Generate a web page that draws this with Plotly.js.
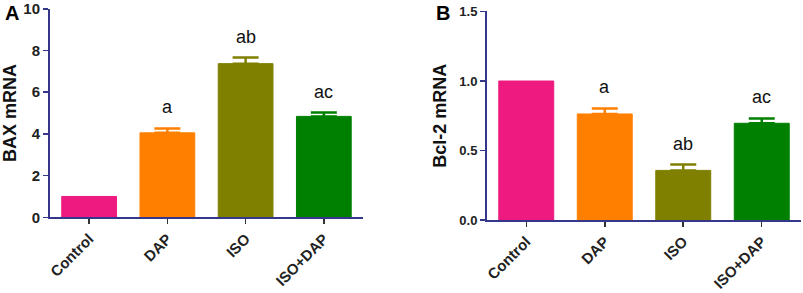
<!DOCTYPE html>
<html>
<head>
<meta charset="utf-8">
<script src="https://cdn.plot.ly/plotly-3.0.1.min.js"></script>
<style>html,body{margin:0;padding:0;background:#fff;}#chart{width:803px;height:293px;}</style>
</head>
<body>
<div id="chart"></div>
<script>
// ---- data ----
const categories = ["Control", "DAP", "ISO", "ISO+DAP"];
const baxMean = [1.0, 4.05, 7.37, 4.84];
const baxErr = [0, 0.21, 0.29, 0.18];
const baxLetters = ["", "a", "ab", "ac"];
const bcl2Mean = [1.0, 0.763, 0.357, 0.696];
const bcl2Err = [0, 0.04, 0.042, 0.035];
const bcl2Letters = ["", "a", "ab", "ac"];
const barColors = ["#EE1A80", "#FF8000", "#808000", "#008000"];

const FONT = "Liberation Sans, Arial, Helvetica, sans-serif";
const AXIS_COLOR = "#35378a";

function barTrace(mean, xa, ya) {
  return {
    type: "bar",
    x: categories,
    y: mean,
    xaxis: xa, yaxis: ya,
    width: 0.7,
    marker: {color: barColors, line: {color: barColors, width: 1}},
    showlegend: false,
    hoverinfo: "x+y"
  };
}

const traces = [barTrace(baxMean, "x", "y"), barTrace(bcl2Mean, "x2", "y2")];
// upward-only error bars, each coloured like its bar
const errTraces = [];
function addErr(mean, err, xa, ya) {
  categories.forEach((c, i) => {
    if (err[i] > 0) {
      errTraces.push({
        type: "scatter", mode: "markers", x: [c], y: [mean[i]], xaxis: xa, yaxis: ya,
        marker: {size: 0.1, opacity: 0},
        error_y: {type: "data", symmetric: false, array: [err[i]], arrayminus: [0],
                  color: barColors[i], thickness: 2.5, width: 13},
        showlegend: false, hoverinfo: "skip"
      });
    }
  });
}
addErr(baxMean, baxErr, "x", "y");
addErr(bcl2Mean, bcl2Err, "x2", "y2");

const annotations = [];
function addLetters(mean, err, letters, xa, ya) {
  categories.forEach((c, i) => {
    if (letters[i]) {
      annotations.push({
        x: c, y: mean[i] + err[i], xref: xa, yref: ya,
        text: letters[i], showarrow: false, yanchor: "bottom", yshift: 9,
        font: {family: FONT, size: 18, color: "#111"}
      });
    }
  });
}
addLetters(baxMean, baxErr, baxLetters, "x", "y");
addLetters(bcl2Mean, bcl2Err, bcl2Letters, "x2", "y2");
annotations.push({text: "A", x: 0.004, y: 1.0, xref: "paper", yref: "paper", xanchor: "left", yanchor: "top",
  showarrow: false, font: {family: FONT, size: 20, color: "#000", weight: "bold"}});
annotations.push({text: "B", x: 0.541, y: 1.0, xref: "paper", yref: "paper", xanchor: "left", yanchor: "top",
  showarrow: false, font: {family: FONT, size: 20, color: "#000", weight: "bold"}});

const xCommon = {
  type: "category", range: [-0.5, 3.5], showline: true, linecolor: AXIS_COLOR, linewidth: 2,
  ticks: "outside", ticklen: 5, tickwidth: 1.5, tickcolor: "#333", tickangle: -45,
  tickfont: {family: FONT, size: 15, color: "#222", weight: "bold"},
  showgrid: false, zeroline: false, fixedrange: true
};
const yCommon = {
  showline: true, linecolor: AXIS_COLOR, linewidth: 2,
  ticks: "outside", ticklen: 5, tickwidth: 1.5, tickcolor: AXIS_COLOR,
  showgrid: false, zeroline: false, fixedrange: true
};

const layout = {
  width: 803, height: 293,
  margin: {l: 0, r: 0, t: 0, b: 0},
  paper_bgcolor: "#fff", plot_bgcolor: "#fff",
  xaxis: Object.assign({}, xCommon, {domain: [0.0623, 0.452], anchor: "y"}),
  yaxis: Object.assign({}, yCommon, {domain: [0.2584, 0.970], anchor: "x", range: [0, 10], dtick: 2,
    tickfont: {family: FONT, size: 15, color: "#222", weight: "bold"},
    title: {text: "BAX mRNA", standoff: 7, font: {family: FONT, size: 18, color: "#111", weight: "bold"}}}),
  xaxis2: Object.assign({}, xCommon, {domain: [0.6065, 0.9975], anchor: "y2"}),
  yaxis2: Object.assign({}, yCommon, {domain: [0.249, 0.9608], anchor: "x2", range: [0, 1.5], dtick: 0.5,
    tickformat: ".1f",
    tickfont: {family: FONT, size: 13, color: "#222", weight: "bold"},
    title: {text: "Bcl-2 mRNA", standoff: 8, font: {family: FONT, size: 18, color: "#111", weight: "bold"}}}),
  annotations: annotations
};

Plotly.newPlot("chart", traces.concat(errTraces), layout, {displayModeBar: false, staticPlot: true});
</script>
</body>
</html>
